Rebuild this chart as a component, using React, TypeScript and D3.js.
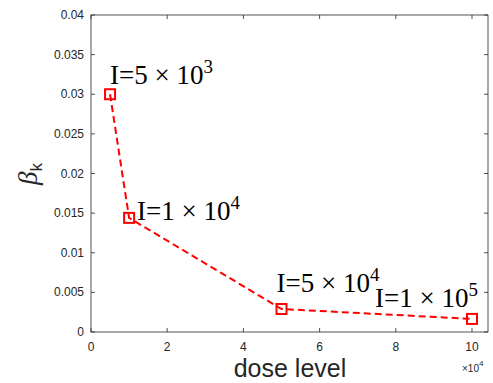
import React from 'react';
import * as d3 from 'd3';

const doseLevels = [0.5, 1, 5, 10]; // x 10^4
const betaK = [0.0300, 0.0144, 0.0029, 0.00165];
const labelBase = ['5', '1', '5', '1'];
const labelExp = ['3', '4', '4', '5'];
const xTicks = [0, 2, 4, 6, 8, 10];
const yTicks = [0, 0.005, 0.01, 0.015, 0.02, 0.025, 0.03, 0.035, 0.04];

const W = 493, H = 383;
const L = 91, R = 488, T = 15, B = 332;

export default function App() {
  const x = d3.scaleLinear().domain([0, 10.42]).range([L, R]);
  const y = d3.scaleLinear().domain([0, 0.04]).range([B, T]);
  const line = d3.line<number>().x((_, i) => x(doseLevels[i])).y((d) => y(d));
  const axisColor = '#262626';
  const tickFont = '"Liberation Sans", Helvetica, Arial, sans-serif';
  const labelOffsets = [
    { dx: 0, dy: -10 },
    { dx: 8, dy: 2 },
    { dx: -5, dy: -17 },
    { dx: -97, dy: -12 },
  ];
  return (
    <svg width={W} height={H} style={{ position: 'absolute', left: 0, top: 0 }} fontFamily={tickFont}>
      <rect x={0} y={0} width={W} height={H} fill="#fff" />
      <rect x={L} y={T} width={R - L} height={B - T} fill="none" stroke={axisColor} strokeWidth={0.8} />
      {xTicks.map((t) => (
        <g key={'x' + t}>
          <line x1={x(t)} x2={x(t)} y1={B} y2={B - 4} stroke={axisColor} strokeWidth={0.8} />
          <line x1={x(t)} x2={x(t)} y1={T} y2={T + 4} stroke={axisColor} strokeWidth={0.8} />
          <text x={x(t)} y={B + 19} fontSize={12} textAnchor="middle" fill={axisColor}>{t}</text>
        </g>
      ))}
      {yTicks.map((t) => (
        <g key={'y' + t}>
          <line x1={L} x2={L + 4} y1={y(t)} y2={y(t)} stroke={axisColor} strokeWidth={0.8} />
          <line x1={R} x2={R - 4} y1={y(t)} y2={y(t)} stroke={axisColor} strokeWidth={0.8} />
          <text x={L - 7} y={y(t) + 4} fontSize={12} textAnchor="end" fill={axisColor}>{t}</text>
        </g>
      ))}
      <text x={462} y={372} fontSize={10} fill={axisColor}>×10<tspan dy={-6} fontSize={8}>4</tspan></text>
      <text x={290} y={377} fontSize={25} textAnchor="middle" fill={axisColor}>dose level</text>
      <text transform={`translate(37,174) rotate(-90)`} textAnchor="middle" fill={axisColor}>
        <tspan fontFamily='"Liberation Serif", serif' fontStyle="italic" fontSize={27}>β</tspan>
        <tspan fontSize={17} dy={5}>k</tspan>
      </text>
      <path d={line(betaK) || ''} fill="none" stroke="#ff0000" strokeWidth={2} strokeDasharray="7,4" />
      {betaK.map((v, i) => (
        <rect key={'m' + i} x={x(doseLevels[i]) - 5} y={y(v) - 5} width={10} height={10} fill="none" stroke="#ff0000" strokeWidth={2} />
      ))}
      {betaK.map((v, i) => (
        <text key={'l' + i} x={x(doseLevels[i]) + labelOffsets[i].dx} y={y(v) + labelOffsets[i].dy}
          fontFamily='"Liberation Serif", "Times New Roman", serif' fontSize={27} fill="#000">
          I=<tspan>{labelBase[i]}</tspan> × 10<tspan dy={-11} fontSize={19}>{labelExp[i]}</tspan>
        </text>
      ))}
    </svg>
  );
}
